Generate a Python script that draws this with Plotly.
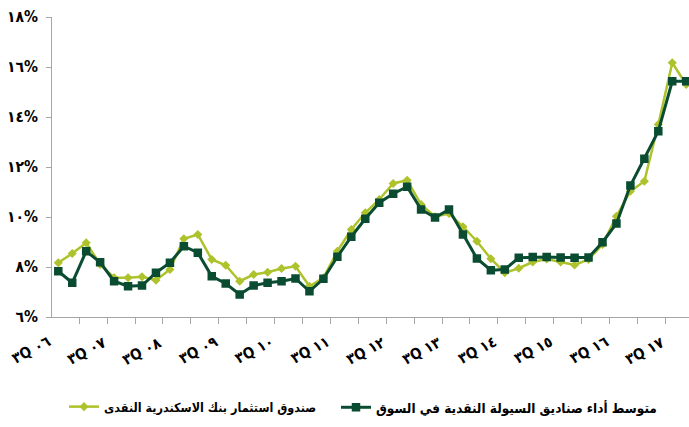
import plotly.graph_objects as go

quarters = ["3Q06","4Q06","1Q07","2Q07","3Q07","4Q07","1Q08","2Q08","3Q08","4Q08",
            "1Q09","2Q09","3Q09","4Q09","1Q10","2Q10","3Q10","4Q10","1Q11","2Q11",
            "3Q11","4Q11","1Q12","2Q12","3Q12","4Q12","1Q13","2Q13","3Q13","4Q13",
            "1Q14","2Q14","3Q14","4Q14","1Q15","2Q15","3Q15","4Q15","1Q16","2Q16",
            "3Q16","4Q16","1Q17","2Q17","3Q17","4Q17"]

alex_fund = [8.17, 8.54, 8.97, 8.10, 7.57, 7.57, 7.61, 7.47, 7.90, 9.13,
             9.30, 8.30, 8.07, 7.43, 7.70, 7.79, 7.94, 8.03, 7.23, 7.57,
             8.63, 9.50, 10.17, 10.70, 11.34, 11.47, 10.50, 10.01, 10.14, 9.61,
             9.03, 8.33, 7.77, 7.95, 8.20, 8.32, 8.20, 8.08, 8.30, 8.90,
             10.03, 11.03, 11.43, 13.70, 16.17, 15.30]

market_avg = [7.83, 7.37, 8.63, 8.19, 7.43, 7.23, 7.26, 7.77, 8.17, 8.83,
              8.57, 7.63, 7.34, 6.90, 7.26, 7.37, 7.43, 7.54, 7.03, 7.53,
              8.41, 9.21, 9.93, 10.57, 10.93, 11.21, 10.30, 9.98, 10.30, 9.30,
              8.34, 7.87, 7.90, 8.37, 8.40, 8.40, 8.38, 8.37, 8.38, 8.99,
              9.74, 11.26, 12.33, 13.43, 15.43, 15.43]

x_label_quarters = ["3Q06","3Q07","3Q08","3Q09","3Q10","3Q11","3Q12","3Q13","3Q14","3Q15","3Q16","3Q17"]
x_tick_text = ["٣Q ٠٦","٣Q ٠٧","٣Q ٠٨","٣Q ٠٩","٣Q ١٠","٣Q ١١","٣Q ١٢","٣Q ١٣","٣Q ١٤","٣Q ١٥","٣Q ١٦","٣Q ١٧"]
y_tick_vals = [6, 8, 10, 12, 14, 16, 18]
y_tick_text = ["٦%","٨%","١٠%","١٢%","١٤%","١٦%","١٨%"]

name_alex = "صندوق استثمار بنك الاسكندرية النقدى"
name_market = "متوسط أداء صناديق السيولة النقدية في السوق"

LIGHT = "#AEC22C"
DARK = "#0A4C31"
GRAY = "#A6A6A6"
FONT = "DejaVu Sans Condensed, DejaVu Sans"

xs = list(range(len(quarters)))

fig = go.Figure()
fig.add_trace(go.Scatter(
    x=xs, y=alex_fund, name=name_alex, mode="lines+markers",
    line=dict(color=LIGHT, width=2.5),
    marker=dict(symbol="diamond", size=7, color=LIGHT),
    cliponaxis=False, legend="legend",
))
fig.add_trace(go.Scatter(
    x=xs, y=market_avg, name=name_market, mode="lines+markers",
    line=dict(color=DARK, width=3),
    marker=dict(symbol="square", size=8.5, color=DARK),
    cliponaxis=False, legend="legend2",
))

# x-axis category labels as rotated annotations anchored at category centres
for q, txt in zip(x_label_quarters, x_tick_text):
    fig.add_annotation(
        x=quarters.index(q), xref="x", y=0, yref="paper",
        text=txt, showarrow=False, textangle=-28,
        xanchor="right", yanchor="top", xshift=-2, yshift=-13,
        font=dict(size=15, weight="bold", family=FONT, color="black"),
    )

fig.update_layout(
    width=689, height=427,
    margin=dict(l=52, r=0, t=17, b=110),
    plot_bgcolor="white", paper_bgcolor="white",
    font=dict(family=FONT, color="black"),
    showlegend=True,
    legend=dict(
        orientation="h", x=(64 - 52) / 637, xanchor="left", y=-0.25, yanchor="top",
        font=dict(size=12.5, weight="bold", family=FONT, color="black"),
    ),
    legend2=dict(
        orientation="h", x=(336 - 52) / 637, xanchor="left", y=-0.25, yanchor="top",
        font=dict(size=13.5, weight="bold", family=FONT, color="black"),
    ),
)

fig.update_xaxes(
    range=[-0.45, 45.2], automargin=False,
    showline=True, linecolor=GRAY, linewidth=1,
    showgrid=False, zeroline=False,
    tickmode="array",
    tickvals=[quarters.index(q) for q in x_label_quarters],
    showticklabels=False, ticks="",
    minor=dict(tick0=-0.5, dtick=2, ticks="outside", ticklen=6, tickcolor=GRAY, showgrid=False),
)

fig.update_yaxes(
    range=[6, 18], automargin=False,
    showline=True, linecolor=GRAY, linewidth=1,
    showgrid=False, zeroline=False,
    tickmode="array", tickvals=y_tick_vals, ticktext=y_tick_text,
    ticks="outside", ticklen=5, tickcolor=GRAY,
    tickfont=dict(size=15.5, weight="bold", family=FONT, color="black"),
    ticklabelstandoff=5,
)

fig.write_html(
    "out.html",
    config={"displayModeBar": False},
    post_script="document.body.style.margin='0';document.body.style.overflow='hidden';",
)
